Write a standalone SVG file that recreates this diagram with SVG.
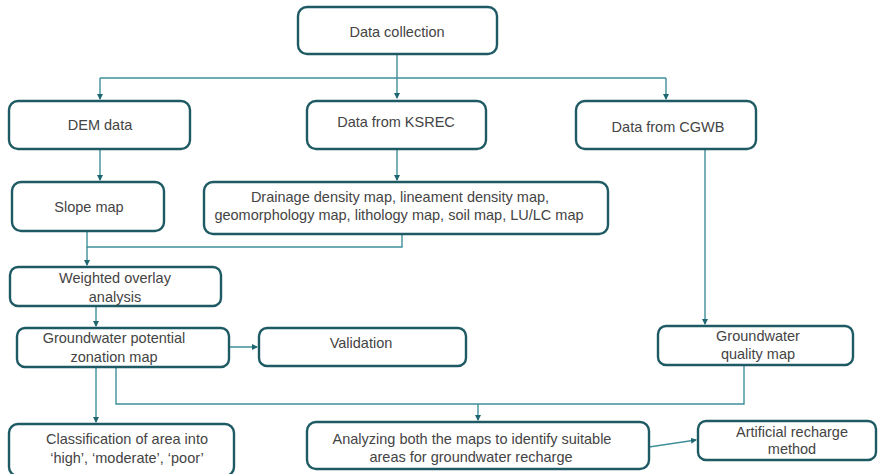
<svg xmlns="http://www.w3.org/2000/svg" width="878" height="474" viewBox="0 0 878 474">
<defs>
<marker id="ah" markerWidth="6" markerHeight="6" refX="5" refY="3" orient="auto" markerUnits="userSpaceOnUse">
<path d="M0,0 L6,3 L0,6 Z" fill="#1e6670"/>
</marker>
<style>
.box{fill:#fff;stroke:#1e5a63;stroke-width:2.4}
.t{font-family:"Liberation Sans",Arial,sans-serif;font-size:14.5px;fill:#444;text-anchor:middle}
.c{fill:none;stroke:#3f8f99;stroke-width:1.4}
</style>
</defs>
<rect width="878" height="474" fill="#fff"/>
<g id="connectors">
<path class="c" d="M397,54 V98" marker-end="url(#ah)"/>
<path class="c" d="M100,78 H666"/>
<path class="c" d="M100,78 V99" marker-end="url(#ah)"/>
<path class="c" d="M666,78 V99" marker-end="url(#ah)"/>
<path class="c" d="M100,149 V180" marker-end="url(#ah)"/>
<path class="c" d="M397,149 V180" marker-end="url(#ah)"/>
<path class="c" d="M705,149 V324" marker-end="url(#ah)"/>
<path class="c" d="M87,231 V247 H402 V234"/>
<path class="c" d="M87,247 V265" marker-end="url(#ah)"/>
<path class="c" d="M96,306 V326" marker-end="url(#ah)"/>
<path class="c" d="M221,347 H257" marker-end="url(#ah)"/>
<path class="c" d="M96,367 V422" marker-end="url(#ah)"/>
<path class="c" d="M116,367 V404 H744 V365"/>
<path class="c" d="M478,404 V420" marker-end="url(#ah)"/>
<path class="c" d="M649,447 L696,440" marker-end="url(#ah)"/>
</g>
<g id="data-collection"><rect class="box" x="298" y="7" width="199" height="47" rx="9"/><text class="t" x="397" y="37">Data collection</text></g>
<g id="dem-data"><rect class="box" x="9" y="101" width="181" height="48" rx="9"/><text class="t" x="100" y="130">DEM data</text></g>
<g id="ksrec"><rect class="box" x="307" y="101" width="179" height="48" rx="9"/><text class="t" x="396" y="127">Data from KSREC</text></g>
<g id="cgwb"><rect class="box" x="576" y="101" width="180" height="48" rx="9"/><text class="t" x="668" y="132">Data from CGWB</text></g>
<g id="slope-map"><rect class="box" x="12" y="182" width="152" height="49" rx="9"/><text class="t" x="89" y="212">Slope map</text></g>
<g id="thematic-maps"><rect class="box" x="204" y="182" width="404" height="52" rx="9"/><text class="t" x="400" y="202">Drainage density map, lineament density map,</text><text class="t" x="399" y="220">geomorphology map, lithology map, soil map, LU/LC map</text></g>
<g id="weighted-overlay"><rect class="box" x="10" y="267" width="211" height="39" rx="8"/><text class="t" x="115" y="283">Weighted overlay</text><text class="t" x="115" y="302">analysis</text></g>
<g id="gw-potential"><rect class="box" x="17" y="328" width="212" height="39" rx="8"/><text class="t" x="114" y="343">Groundwater potential</text><text class="t" x="114" y="362">zonation map</text></g>
<g id="validation"><rect class="box" x="259" y="328" width="207" height="38" rx="8"/><text class="t" x="361" y="348">Validation</text></g>
<g id="gw-quality"><rect class="box" x="658" y="326" width="195" height="39" rx="8"/><text class="t" x="758" y="341">Groundwater</text><text class="t" x="758" y="359">quality map</text></g>
<g id="classification"><rect class="box" x="9" y="424" width="225" height="52" rx="9"/><text class="t" x="127" y="444">Classification of area into</text><text class="t" x="127" y="463">‘high’, ‘moderate’, ‘poor’</text></g>
<g id="analyzing"><rect class="box" x="307" y="422" width="342" height="47" rx="9"/><text class="t" x="472" y="444">Analyzing both the maps to identify suitable</text><text class="t" x="471" y="462">areas for groundwater recharge</text></g>
<g id="artificial"><rect class="box" x="698" y="421" width="178" height="39" rx="8"/><text class="t" x="792" y="437">Artificial recharge</text><text class="t" x="792" y="454">method</text></g>
</svg>
